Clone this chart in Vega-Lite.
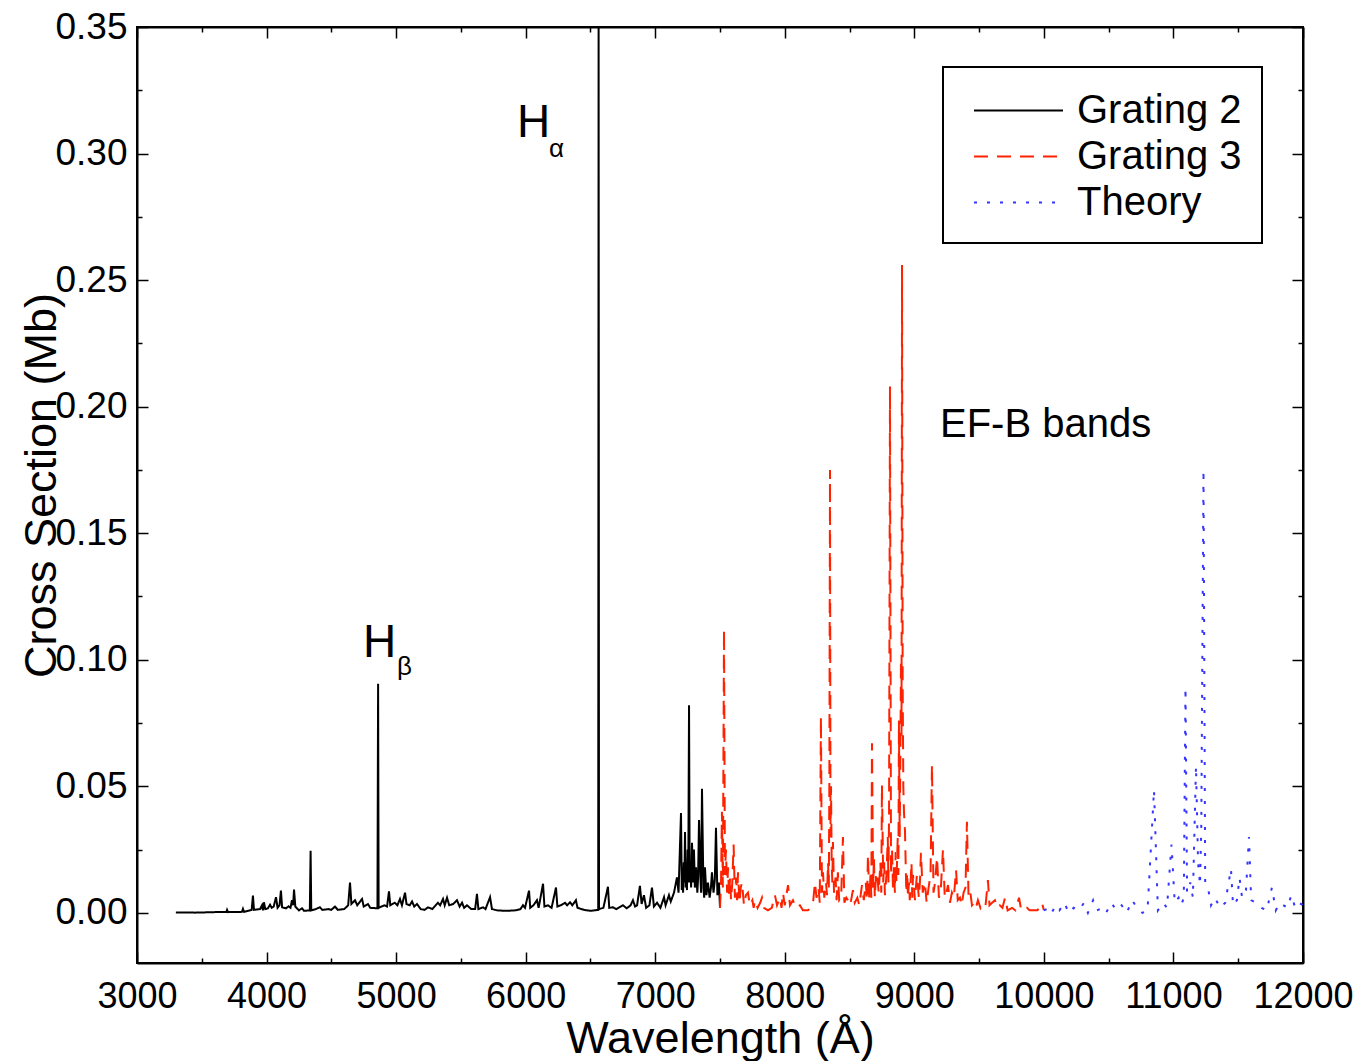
{
"$schema": "https://vega.github.io/schema/vega-lite/v6.json",
"width": 1166, "height": 936,
"autosize": {"type": "none"},
"padding": {"left": 137, "top": 27, "right": 58, "bottom": 98},
"background": "white",
"config": {
  "font": "Liberation Sans",
  "view": {"stroke": "black", "strokeWidth": 2},
  "axis": {"grid": false, "domainColor": "black", "domainWidth": 2, "tickColor": "black", "tickWidth": 1.5, "labelColor": "black", "titleColor": "black", "labelFont": "Liberation Sans", "titleFont": "Liberation Sans", "labelFontSize": 36, "titleFontSize": 45, "titleFontWeight": "normal", "labelFlush": false, "labelOverlap": false, "labelBound": false},
  "legend": {"strokeColor": "black", "strokeWidth": 2, "fillColor": "white", "padding": 20, "labelFont": "Liberation Sans", "labelFontSize": 40, "labelColor": "black", "labelLimit": 400, "symbolType": "M-2,0H2", "symbolSize": 1980, "symbolStrokeWidth": 2, "symbolOffset": 32, "labelOffset": 35, "rowPadding": 2}
},
"datasets": {
"spec": [
{"s":"Grating 2","w":3300,"v":0.0002},{"s":"Grating 2","w":3450,"v":0.0001},{"s":"Grating 2","w":3600,"v":0.0003},{"s":"Grating 2","w":3690,"v":0.0004},{"s":"Grating 2","w":3695,"v":0.0012},{"s":"Grating 2","w":3702,"v":0.0003},{"s":"Grating 2","w":3810,"v":0.0004},{"s":"Grating 2","w":3818,"v":0.0016},{"s":"Grating 2","w":3826,"v":0.0004},{"s":"Grating 2","w":3885,"v":0.0012},{"s":"Grating 2","w":3895,"v":0.0068},{"s":"Grating 2","w":3903,"v":0.0012},{"s":"Grating 2","w":3950,"v":0.0015},{"s":"Grating 2","w":3965,"v":0.003},{"s":"Grating 2","w":3972,"v":0.001},{"s":"Grating 2","w":3980,"v":0.0042},{"s":"Grating 2","w":3990,"v":0.0015},{"s":"Grating 2","w":4010,"v":0.0018},{"s":"Grating 2","w":4027,"v":0.0032},{"s":"Grating 2","w":4040,"v":0.002},{"s":"Grating 2","w":4055,"v":0.0025},{"s":"Grating 2","w":4073,"v":0.0062},{"s":"Grating 2","w":4085,"v":0.002},{"s":"Grating 2","w":4100,"v":0.003},{"s":"Grating 2","w":4111,"v":0.0088},{"s":"Grating 2","w":4120,"v":0.0022},{"s":"Grating 2","w":4150,"v":0.0018},{"s":"Grating 2","w":4170,"v":0.0026},{"s":"Grating 2","w":4185,"v":0.002},{"s":"Grating 2","w":4196,"v":0.005},{"s":"Grating 2","w":4205,"v":0.003},{"s":"Grating 2","w":4212,"v":0.0092},{"s":"Grating 2","w":4222,"v":0.0025},{"s":"Grating 2","w":4250,"v":0.001},{"s":"Grating 2","w":4274,"v":0.0018},{"s":"Grating 2","w":4290,"v":0.0008},{"s":"Grating 2","w":4334,"v":0.001},{"s":"Grating 2","w":4340,"v":0.0245},{"s":"Grating 2","w":4345,"v":0.001},{"s":"Grating 2","w":4380,"v":0.0015},{"s":"Grating 2","w":4412,"v":0.0022},{"s":"Grating 2","w":4430,"v":0.0012},{"s":"Grating 2","w":4480,"v":0.0015},{"s":"Grating 2","w":4500,"v":0.0012},{"s":"Grating 2","w":4528,"v":0.0025},{"s":"Grating 2","w":4550,"v":0.0012},{"s":"Grating 2","w":4600,"v":0.0015},{"s":"Grating 2","w":4630,"v":0.003},{"s":"Grating 2","w":4644,"v":0.012},{"s":"Grating 2","w":4655,"v":0.0035},{"s":"Grating 2","w":4683,"v":0.005},{"s":"Grating 2","w":4700,"v":0.003},{"s":"Grating 2","w":4737,"v":0.0055},{"s":"Grating 2","w":4750,"v":0.0025},{"s":"Grating 2","w":4783,"v":0.0035},{"s":"Grating 2","w":4800,"v":0.002},{"s":"Grating 2","w":4856,"v":0.0018},{"s":"Grating 2","w":4861,"v":0.0905},{"s":"Grating 2","w":4865,"v":0.002},{"s":"Grating 2","w":4910,"v":0.003},{"s":"Grating 2","w":4930,"v":0.0025},{"s":"Grating 2","w":4945,"v":0.0085},{"s":"Grating 2","w":4955,"v":0.003},{"s":"Grating 2","w":4990,"v":0.004},{"s":"Grating 2","w":5010,"v":0.003},{"s":"Grating 2","w":5030,"v":0.0055},{"s":"Grating 2","w":5045,"v":0.003},{"s":"Grating 2","w":5069,"v":0.008},{"s":"Grating 2","w":5080,"v":0.0035},{"s":"Grating 2","w":5105,"v":0.003},{"s":"Grating 2","w":5123,"v":0.0045},{"s":"Grating 2","w":5140,"v":0.0025},{"s":"Grating 2","w":5161,"v":0.0035},{"s":"Grating 2","w":5190,"v":0.0015},{"s":"Grating 2","w":5220,"v":0.0012},{"s":"Grating 2","w":5246,"v":0.0022},{"s":"Grating 2","w":5280,"v":0.0015},{"s":"Grating 2","w":5323,"v":0.004},{"s":"Grating 2","w":5340,"v":0.003},{"s":"Grating 2","w":5362,"v":0.0055},{"s":"Grating 2","w":5375,"v":0.003},{"s":"Grating 2","w":5393,"v":0.006},{"s":"Grating 2","w":5410,"v":0.003},{"s":"Grating 2","w":5440,"v":0.0035},{"s":"Grating 2","w":5470,"v":0.005},{"s":"Grating 2","w":5490,"v":0.0025},{"s":"Grating 2","w":5509,"v":0.004},{"s":"Grating 2","w":5525,"v":0.002},{"s":"Grating 2","w":5547,"v":0.003},{"s":"Grating 2","w":5580,"v":0.0015},{"s":"Grating 2","w":5610,"v":0.0015},{"s":"Grating 2","w":5624,"v":0.0075},{"s":"Grating 2","w":5635,"v":0.0015},{"s":"Grating 2","w":5671,"v":0.0022},{"s":"Grating 2","w":5690,"v":0.0015},{"s":"Grating 2","w":5725,"v":0.0062},{"s":"Grating 2","w":5740,"v":0.0015},{"s":"Grating 2","w":5780,"v":0.001},{"s":"Grating 2","w":5850,"v":0.0008},{"s":"Grating 2","w":5920,"v":0.001},{"s":"Grating 2","w":5960,"v":0.0015},{"s":"Grating 2","w":5979,"v":0.003},{"s":"Grating 2","w":5995,"v":0.002},{"s":"Grating 2","w":6026,"v":0.0088},{"s":"Grating 2","w":6035,"v":0.002},{"s":"Grating 2","w":6060,"v":0.003},{"s":"Grating 2","w":6087,"v":0.005},{"s":"Grating 2","w":6100,"v":0.002},{"s":"Grating 2","w":6134,"v":0.0115},{"s":"Grating 2","w":6145,"v":0.0025},{"s":"Grating 2","w":6172,"v":0.003},{"s":"Grating 2","w":6200,"v":0.002},{"s":"Grating 2","w":6234,"v":0.01},{"s":"Grating 2","w":6245,"v":0.0025},{"s":"Grating 2","w":6270,"v":0.003},{"s":"Grating 2","w":6304,"v":0.004},{"s":"Grating 2","w":6320,"v":0.003},{"s":"Grating 2","w":6342,"v":0.0042},{"s":"Grating 2","w":6360,"v":0.003},{"s":"Grating 2","w":6388,"v":0.005},{"s":"Grating 2","w":6400,"v":0.002},{"s":"Grating 2","w":6450,"v":0.0012},{"s":"Grating 2","w":6500,"v":0.0008},{"s":"Grating 2","w":6560,"v":0.0012},{"s":"Grating 2","w":6563,"v":0.35},{"s":"Grating 2","w":6566,"v":0.0015},{"s":"Grating 2","w":6600,"v":0.002},{"s":"Grating 2","w":6635,"v":0.0103},{"s":"Grating 2","w":6645,"v":0.002},{"s":"Grating 2","w":6674,"v":0.0022},{"s":"Grating 2","w":6700,"v":0.0015},{"s":"Grating 2","w":6751,"v":0.003},{"s":"Grating 2","w":6780,"v":0.0018},{"s":"Grating 2","w":6810,"v":0.003},{"s":"Grating 2","w":6828,"v":0.005},{"s":"Grating 2","w":6845,"v":0.0025},{"s":"Grating 2","w":6860,"v":0.003},{"s":"Grating 2","w":6882,"v":0.0107},{"s":"Grating 2","w":6895,"v":0.0035},{"s":"Grating 2","w":6913,"v":0.007},{"s":"Grating 2","w":6930,"v":0.002},{"s":"Grating 2","w":6955,"v":0.003},{"s":"Grating 2","w":6975,"v":0.01},{"s":"Grating 2","w":6990,"v":0.0025},{"s":"Grating 2","w":7014,"v":0.004},{"s":"Grating 2","w":7040,"v":0.002},{"s":"Grating 2","w":7068,"v":0.0062},{"s":"Grating 2","w":7080,"v":0.003},{"s":"Grating 2","w":7106,"v":0.007},{"s":"Grating 2","w":7120,"v":0.0045},{"s":"Grating 2","w":7145,"v":0.008},{"s":"Grating 2","w":7168,"v":0.014},{"s":"Grating 2","w":7180,"v":0.008},{"s":"Grating 2","w":7199,"v":0.0395},{"s":"Grating 2","w":7205,"v":0.009},{"s":"Grating 2","w":7210,"v":0.018},{"s":"Grating 2","w":7215,"v":0.008},{"s":"Grating 2","w":7220,"v":0.02},{"s":"Grating 2","w":7225,"v":0.012},{"s":"Grating 2","w":7230,"v":0.032},{"s":"Grating 2","w":7235,"v":0.01},{"s":"Grating 2","w":7240,"v":0.015},{"s":"Grating 2","w":7245,"v":0.009},{"s":"Grating 2","w":7250,"v":0.025},{"s":"Grating 2","w":7255,"v":0.012},{"s":"Grating 2","w":7261,"v":0.082},{"s":"Grating 2","w":7266,"v":0.012},{"s":"Grating 2","w":7270,"v":0.02},{"s":"Grating 2","w":7277,"v":0.01},{"s":"Grating 2","w":7284,"v":0.0277},{"s":"Grating 2","w":7292,"v":0.012},{"s":"Grating 2","w":7299,"v":0.025},{"s":"Grating 2","w":7306,"v":0.01},{"s":"Grating 2","w":7315,"v":0.018},{"s":"Grating 2","w":7325,"v":0.008},{"s":"Grating 2","w":7331,"v":0.014},{"s":"Grating 2","w":7338,"v":0.0367},{"s":"Grating 2","w":7348,"v":0.015},{"s":"Grating 2","w":7354,"v":0.008},{"s":"Grating 2","w":7361,"v":0.049},{"s":"Grating 2","w":7372,"v":0.01},{"s":"Grating 2","w":7378,"v":0.006},{"s":"Grating 2","w":7384,"v":0.018},{"s":"Grating 2","w":7395,"v":0.007},{"s":"Grating 2","w":7407,"v":0.012},{"s":"Grating 2","w":7420,"v":0.006},{"s":"Grating 2","w":7430,"v":0.01},{"s":"Grating 2","w":7438,"v":0.016},{"s":"Grating 2","w":7450,"v":0.008},{"s":"Grating 2","w":7460,"v":0.013},{"s":"Grating 2","w":7469,"v":0.0336},{"s":"Grating 2","w":7480,"v":0.007},{"s":"Grating 2","w":7492,"v":0.012},{"s":"Grating 2","w":7500,"v":0.002},
{"s":"Grating 3","w":7500,"v":0.002},{"s":"Grating 3","w":7508,"v":0.012},{"s":"Grating 3","w":7515,"v":0.04},{"s":"Grating 3","w":7522,"v":0.01},{"s":"Grating 3","w":7531,"v":0.112},{"s":"Grating 3","w":7538,"v":0.015},{"s":"Grating 3","w":7546,"v":0.025},{"s":"Grating 3","w":7555,"v":0.008},{"s":"Grating 3","w":7562,"v":0.018},{"s":"Grating 3","w":7570,"v":0.006},{"s":"Grating 3","w":7578,"v":0.014},{"s":"Grating 3","w":7585,"v":0.005},{"s":"Grating 3","w":7595,"v":0.012},{"s":"Grating 3","w":7605,"v":0.027},{"s":"Grating 3","w":7615,"v":0.006},{"s":"Grating 3","w":7625,"v":0.014},{"s":"Grating 3","w":7632,"v":0.005},{"s":"Grating 3","w":7639,"v":0.016},{"s":"Grating 3","w":7650,"v":0.004},{"s":"Grating 3","w":7660,"v":0.01},{"s":"Grating 3","w":7670,"v":0.012},{"s":"Grating 3","w":7685,"v":0.003},{"s":"Grating 3","w":7700,"v":0.007},{"s":"Grating 3","w":7716,"v":0.008},{"s":"Grating 3","w":7730,"v":0.003},{"s":"Grating 3","w":7750,"v":0.005},{"s":"Grating 3","w":7760,"v":0.002},{"s":"Grating 3","w":7770,"v":0.005},{"s":"Grating 3","w":7790,"v":0.002},{"s":"Grating 3","w":7810,"v":0.004},{"s":"Grating 3","w":7824,"v":0.006},{"s":"Grating 3","w":7840,"v":0.002},{"s":"Grating 3","w":7870,"v":0.001},{"s":"Grating 3","w":7900,"v":0.002},{"s":"Grating 3","w":7924,"v":0.007},{"s":"Grating 3","w":7940,"v":0.003},{"s":"Grating 3","w":7963,"v":0.006},{"s":"Grating 3","w":7975,"v":0.002},{"s":"Grating 3","w":7986,"v":0.008},{"s":"Grating 3","w":8000,"v":0.003},{"s":"Grating 3","w":8025,"v":0.011},{"s":"Grating 3","w":8040,"v":0.003},{"s":"Grating 3","w":8063,"v":0.005},{"s":"Grating 3","w":8085,"v":0.002},{"s":"Grating 3","w":8117,"v":0.003},{"s":"Grating 3","w":8140,"v":0.001},{"s":"Grating 3","w":8179,"v":0.001},{"s":"Grating 3","w":8200,"v":0.002},{"s":"Grating 3","w":8220,"v":0.005},{"s":"Grating 3","w":8233,"v":0.012},{"s":"Grating 3","w":8245,"v":0.006},{"s":"Grating 3","w":8260,"v":0.01},{"s":"Grating 3","w":8270,"v":0.004},{"s":"Grating 3","w":8279,"v":0.0775},{"s":"Grating 3","w":8287,"v":0.008},{"s":"Grating 3","w":8295,"v":0.016},{"s":"Grating 3","w":8305,"v":0.006},{"s":"Grating 3","w":8318,"v":0.012},{"s":"Grating 3","w":8326,"v":0.007},{"s":"Grating 3","w":8334,"v":0.02},{"s":"Grating 3","w":8340,"v":0.01},{"s":"Grating 3","w":8344,"v":0.05},{"s":"Grating 3","w":8349,"v":0.175},{"s":"Grating 3","w":8353,"v":0.03},{"s":"Grating 3","w":8357,"v":0.05},{"s":"Grating 3","w":8362,"v":0.02},{"s":"Grating 3","w":8367,"v":0.012},{"s":"Grating 3","w":8372,"v":0.028},{"s":"Grating 3","w":8380,"v":0.008},{"s":"Grating 3","w":8392,"v":0.014},{"s":"Grating 3","w":8400,"v":0.005},{"s":"Grating 3","w":8410,"v":0.016},{"s":"Grating 3","w":8420,"v":0.005},{"s":"Grating 3","w":8435,"v":0.006},{"s":"Grating 3","w":8449,"v":0.03},{"s":"Grating 3","w":8460,"v":0.004},{"s":"Grating 3","w":8475,"v":0.006},{"s":"Grating 3","w":8488,"v":0.005},{"s":"Grating 3","w":8505,"v":0.003},{"s":"Grating 3","w":8526,"v":0.009},{"s":"Grating 3","w":8540,"v":0.004},{"s":"Grating 3","w":8560,"v":0.006},{"s":"Grating 3","w":8575,"v":0.003},{"s":"Grating 3","w":8596,"v":0.011},{"s":"Grating 3","w":8610,"v":0.005},{"s":"Grating 3","w":8625,"v":0.012},{"s":"Grating 3","w":8635,"v":0.005},{"s":"Grating 3","w":8642,"v":0.023},{"s":"Grating 3","w":8652,"v":0.006},{"s":"Grating 3","w":8662,"v":0.015},{"s":"Grating 3","w":8668,"v":0.006},{"s":"Grating 3","w":8673,"v":0.067},{"s":"Grating 3","w":8682,"v":0.01},{"s":"Grating 3","w":8688,"v":0.022},{"s":"Grating 3","w":8695,"v":0.006},{"s":"Grating 3","w":8703,"v":0.014},{"s":"Grating 3","w":8712,"v":0.016},{"s":"Grating 3","w":8725,"v":0.008},{"s":"Grating 3","w":8738,"v":0.02},{"s":"Grating 3","w":8745,"v":0.008},{"s":"Grating 3","w":8750,"v":0.0505},{"s":"Grating 3","w":8760,"v":0.012},{"s":"Grating 3","w":8767,"v":0.02},{"s":"Grating 3","w":8773,"v":0.007},{"s":"Grating 3","w":8785,"v":0.015},{"s":"Grating 3","w":8795,"v":0.03},{"s":"Grating 3","w":8800,"v":0.012},{"s":"Grating 3","w":8805,"v":0.04},{"s":"Grating 3","w":8812,"v":0.208},{"s":"Grating 3","w":8820,"v":0.015},{"s":"Grating 3","w":8828,"v":0.025},{"s":"Grating 3","w":8835,"v":0.01},{"s":"Grating 3","w":8843,"v":0.018},{"s":"Grating 3","w":8850,"v":0.008},{"s":"Grating 3","w":8856,"v":0.024},{"s":"Grating 3","w":8862,"v":0.012},{"s":"Grating 3","w":8872,"v":0.03},{"s":"Grating 3","w":8877,"v":0.015},{"s":"Grating 3","w":8881,"v":0.076},{"s":"Grating 3","w":8887,"v":0.03},{"s":"Grating 3","w":8892,"v":0.06},{"s":"Grating 3","w":8897,"v":0.1},{"s":"Grating 3","w":8901,"v":0.07},{"s":"Grating 3","w":8905,"v":0.256},{"s":"Grating 3","w":8910,"v":0.09},{"s":"Grating 3","w":8915,"v":0.05},{"s":"Grating 3","w":8920,"v":0.04},{"s":"Grating 3","w":8928,"v":0.032},{"s":"Grating 3","w":8938,"v":0.008},{"s":"Grating 3","w":8945,"v":0.016},{"s":"Grating 3","w":8951,"v":0.006},{"s":"Grating 3","w":8958,"v":0.012},{"s":"Grating 3","w":8965,"v":0.005},{"s":"Grating 3","w":8978,"v":0.02},{"s":"Grating 3","w":8984,"v":0.006},{"s":"Grating 3","w":8990,"v":0.015},{"s":"Grating 3","w":9005,"v":0.005},{"s":"Grating 3","w":9012,"v":0.01},{"s":"Grating 3","w":9020,"v":0.015},{"s":"Grating 3","w":9035,"v":0.006},{"s":"Grating 3","w":9043,"v":0.012},{"s":"Grating 3","w":9051,"v":0.0237},{"s":"Grating 3","w":9065,"v":0.008},{"s":"Grating 3","w":9082,"v":0.012},{"s":"Grating 3","w":9095,"v":0.004},{"s":"Grating 3","w":9110,"v":0.01},{"s":"Grating 3","w":9125,"v":0.015},{"s":"Grating 3","w":9136,"v":0.0585},{"s":"Grating 3","w":9148,"v":0.008},{"s":"Grating 3","w":9160,"v":0.012},{"s":"Grating 3","w":9175,"v":0.022},{"s":"Grating 3","w":9190,"v":0.006},{"s":"Grating 3","w":9205,"v":0.01},{"s":"Grating 3","w":9221,"v":0.025},{"s":"Grating 3","w":9235,"v":0.006},{"s":"Grating 3","w":9248,"v":0.008},{"s":"Grating 3","w":9260,"v":0.011},{"s":"Grating 3","w":9275,"v":0.004},{"s":"Grating 3","w":9290,"v":0.008},{"s":"Grating 3","w":9305,"v":0.006},{"s":"Grating 3","w":9322,"v":0.017},{"s":"Grating 3","w":9335,"v":0.005},{"s":"Grating 3","w":9352,"v":0.006},{"s":"Grating 3","w":9365,"v":0.003},{"s":"Grating 3","w":9380,"v":0.008},{"s":"Grating 3","w":9395,"v":0.01},{"s":"Grating 3","w":9406,"v":0.036},{"s":"Grating 3","w":9418,"v":0.007},{"s":"Grating 3","w":9430,"v":0.009},{"s":"Grating 3","w":9445,"v":0.003},{"s":"Grating 3","w":9460,"v":0.004},{"s":"Grating 3","w":9475,"v":0.002},{"s":"Grating 3","w":9491,"v":0.005},{"s":"Grating 3","w":9510,"v":0.002},{"s":"Grating 3","w":9530,"v":0.004},{"s":"Grating 3","w":9550,"v":0.003},{"s":"Grating 3","w":9568,"v":0.013},{"s":"Grating 3","w":9580,"v":0.003},{"s":"Grating 3","w":9600,"v":0.004},{"s":"Grating 3","w":9622,"v":0.005},{"s":"Grating 3","w":9640,"v":0.002},{"s":"Grating 3","w":9660,"v":0.003},{"s":"Grating 3","w":9680,"v":0.002},{"s":"Grating 3","w":9700,"v":0.006},{"s":"Grating 3","w":9720,"v":0.001},{"s":"Grating 3","w":9754,"v":0.002},{"s":"Grating 3","w":9780,"v":0.001},{"s":"Grating 3","w":9808,"v":0.006},{"s":"Grating 3","w":9825,"v":0.001},{"s":"Grating 3","w":9850,"v":0.002},{"s":"Grating 3","w":9870,"v":0.002},{"s":"Grating 3","w":9890,"v":0.001},{"s":"Grating 3","w":9916,"v":0.001},{"s":"Grating 3","w":9950,"v":0.001},{"s":"Grating 3","w":9985,"v":0.004},{"s":"Grating 3","w":10000,"v":0.001},
{"s":"Theory","w":10000,"v":0.001},{"s":"Theory","w":10040,"v":0.002},{"s":"Theory","w":10060,"v":0.0},{"s":"Theory","w":10090,"v":0.003},{"s":"Theory","w":10120,"v":0.001},{"s":"Theory","w":10160,"v":0.004},{"s":"Theory","w":10190,"v":0.0},{"s":"Theory","w":10230,"v":0.002},{"s":"Theory","w":10270,"v":0.001},{"s":"Theory","w":10310,"v":0.004},{"s":"Theory","w":10340,"v":0.0},{"s":"Theory","w":10380,"v":0.005},{"s":"Theory","w":10410,"v":0.001},{"s":"Theory","w":10450,"v":0.002},{"s":"Theory","w":10480,"v":0.0},{"s":"Theory","w":10520,"v":0.004},{"s":"Theory","w":10560,"v":0.001},{"s":"Theory","w":10600,"v":0.003},{"s":"Theory","w":10640,"v":0.0},{"s":"Theory","w":10680,"v":0.005},{"s":"Theory","w":10720,"v":0.002},{"s":"Theory","w":10760,"v":0.0},{"s":"Theory","w":10800,"v":0.001},{"s":"Theory","w":10850,"v":0.0486},{"s":"Theory","w":10880,"v":0.001},{"s":"Theory","w":10920,"v":0.004},{"s":"Theory","w":10950,"v":0.002},{"s":"Theory","w":10985,"v":0.027},{"s":"Theory","w":11010,"v":0.004},{"s":"Theory","w":11040,"v":0.006},{"s":"Theory","w":11060,"v":0.003},{"s":"Theory","w":11080,"v":0.006},{"s":"Theory","w":11093,"v":0.089},{"s":"Theory","w":11105,"v":0.008},{"s":"Theory","w":11130,"v":0.012},{"s":"Theory","w":11150,"v":0.006},{"s":"Theory","w":11174,"v":0.058},{"s":"Theory","w":11190,"v":0.02},{"s":"Theory","w":11205,"v":0.011},{"s":"Theory","w":11215,"v":0.035},{"s":"Theory","w":11232,"v":0.175},{"s":"Theory","w":11245,"v":0.012},{"s":"Theory","w":11270,"v":0.009},{"s":"Theory","w":11290,"v":0.003},{"s":"Theory","w":11320,"v":0.006},{"s":"Theory","w":11360,"v":0.002},{"s":"Theory","w":11400,"v":0.004},{"s":"Theory","w":11444,"v":0.0174},{"s":"Theory","w":11460,"v":0.003},{"s":"Theory","w":11490,"v":0.005},{"s":"Theory","w":11510,"v":0.0138},{"s":"Theory","w":11530,"v":0.006},{"s":"Theory","w":11560,"v":0.009},{"s":"Theory","w":11583,"v":0.03},{"s":"Theory","w":11600,"v":0.005},{"s":"Theory","w":11640,"v":0.004},{"s":"Theory","w":11680,"v":0.002},{"s":"Theory","w":11720,"v":0.001},{"s":"Theory","w":11760,"v":0.01},{"s":"Theory","w":11790,"v":0.001},{"s":"Theory","w":11820,"v":0.004},{"s":"Theory","w":11850,"v":0.003},{"s":"Theory","w":11880,"v":0.002},{"s":"Theory","w":11910,"v":0.007},{"s":"Theory","w":11940,"v":0.002},{"s":"Theory","w":11970,"v":0.004},{"s":"Theory","w":12000,"v":0.003}
],
"big": [{"t":"H","w":5933,"v":0.3066},{"t":"H","w":4744,"v":0.1011}],
"sub": [{"t":"α","w":6180,"v":0.2987},{"t":"β","w":5007,"v":0.094}],
"ann": [{"t":"EF-B bands","w":9198,"v":0.188}]
},
"layer": [
{
  "data": {"name": "spec"},
  "mark": {"type": "line", "strokeWidth": 2, "clip": true},
  "encoding": {
    "x": {"field": "w", "type": "quantitative", "scale": {"domain": [3000, 12000], "nice": false, "zero": false},
      "axis": {"orient": "bottom", "values": [3000,3500,4000,4500,5000,5500,6000,6500,7000,7500,8000,8500,9000,9500,10000,10500,11000,11500,12000], "format": "d", "labelExpr": "datum.value % 1000 == 0 ? datum.label : ''", "tickSize": {"condition": {"test": "datum.value % 1000 == 0", "value": -11}, "value": -5}, "labelPadding": 27, "title": "Wavelength (Å)", "titleX": 583, "titleY": 89, "titleBaseline": "alphabetic", "titleAlign": "center"}},
    "y": {"field": "v", "type": "quantitative", "scale": {"domain": [-0.0198, 0.35], "nice": false, "zero": false},
      "axis": {"orient": "left", "values": [0,0.025,0.05,0.075,0.1,0.125,0.15,0.175,0.2,0.225,0.25,0.275,0.3,0.325,0.35], "format": ".2f", "labelExpr": "round(datum.value*1000) % 50 == 0 ? datum.label : ''", "tickSize": {"condition": {"test": "round(datum.value*1000) % 50 == 0", "value": -11}, "value": -5}, "labelPadding": 21, "labelFontSize": 37, "title": "Cross Section (Mb)", "titleX": -82, "titleY": 458, "titleAngle": -90, "titleBaseline": "alphabetic", "titleAlign": "center"}},
    "color": {"field": "s", "type": "nominal", "scale": {"domain": ["Grating 2", "Grating 3", "Theory"], "range": ["#000000", "#ff2200", "#3535ff"]},
      "legend": {"title": null, "orient": "none", "legendX": 806, "legendY": 40}},
    "strokeDash": {"field": "s", "type": "nominal", "scale": {"domain": ["Grating 2", "Grating 3", "Theory"], "range": [[1, 0], [14, 9], [3, 10]]},
      "legend": {"title": null, "orient": "none", "legendX": 806, "legendY": 40}}
  }
},
{
  "data": {"name": "big"},
  "mark": {"type": "text", "align": "left", "baseline": "alphabetic", "fontSize": 46, "font": "Liberation Sans", "color": "black"},
  "encoding": {
    "x": {"field": "w", "type": "quantitative", "scale": {"domain": [3000, 12000], "nice": false, "zero": false},
      "axis": {"orient": "top", "values": [3000,3500,4000,4500,5000,5500,6000,6500,7000,7500,8000,8500,9000,9500,10000,10500,11000,11500,12000], "labels": false, "title": null, "tickSize": {"condition": {"test": "datum.value % 1000 == 0", "value": -11}, "value": -5}}},
    "y": {"field": "v", "type": "quantitative", "scale": {"domain": [-0.0198, 0.35], "nice": false, "zero": false},
      "axis": {"orient": "right", "values": [0,0.025,0.05,0.075,0.1,0.125,0.15,0.175,0.2,0.225,0.25,0.275,0.3,0.325,0.35], "labels": false, "title": null, "tickSize": {"condition": {"test": "round(datum.value*1000) % 50 == 0", "value": -11}, "value": -5}}},
    "text": {"field": "t"}
  }
},
{
  "data": {"name": "sub"},
  "mark": {"type": "text", "align": "left", "baseline": "alphabetic", "fontSize": 26, "font": "Liberation Sans", "color": "black"},
  "encoding": {
    "x": {"field": "w", "type": "quantitative", "scale": {"domain": [3000, 12000], "nice": false, "zero": false}, "axis": null},
    "y": {"field": "v", "type": "quantitative", "scale": {"domain": [-0.0198, 0.35], "nice": false, "zero": false}, "axis": null},
    "text": {"field": "t"}
  }
},
{
  "data": {"name": "ann"},
  "mark": {"type": "text", "align": "left", "baseline": "alphabetic", "fontSize": 40, "font": "Liberation Sans", "color": "black"},
  "encoding": {
    "x": {"field": "w", "type": "quantitative", "scale": {"domain": [3000, 12000], "nice": false, "zero": false}, "axis": null},
    "y": {"field": "v", "type": "quantitative", "scale": {"domain": [-0.0198, 0.35], "nice": false, "zero": false}, "axis": null},
    "text": {"field": "t"}
  }
}
],
"resolve": {"axis": {"x": "independent", "y": "independent"}}
}
